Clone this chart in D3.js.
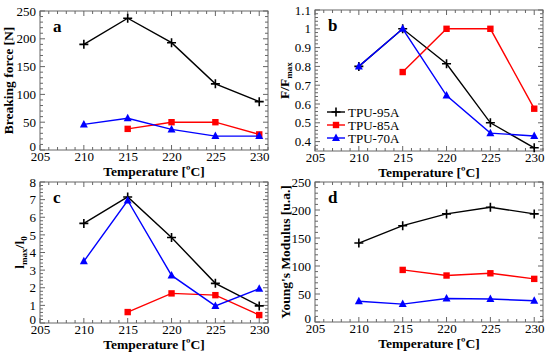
<!DOCTYPE html>
<html><head><meta charset="utf-8">
<script src="https://cdn.jsdelivr.net/npm/d3@7"></script>
<style>body{margin:0;background:#fff}svg{display:block}svg text{font-family:'Liberation Serif','Times New Roman',Times,serif !important}</style>
</head><body>
<script>
const temps = [210, 215, 220, 225, 230];
const seriesNames = ["TPU-95A", "TPU-85A", "TPU-70A"];
const seriesColors = ["#000000", "#ff0000", "#0000ff"];
const seriesMarkers = ["plus", "square", "triangle"];
// values by temperature; null = no measurement
const forceA95 = [190, 237, 193, 119, 87];
const forceA85 = [null, 38, 50, 50, 28];
const forceA70 = [46, 57, 37, 25, 25];
const ratioB95 = [0.80, 1.0, 0.814, 0.50, 0.367];
const ratioB85 = [null, 0.77, 1.0, 1.0, 0.575];
const ratioB70 = [0.80, 1.0, 0.645, 0.445, 0.43];
const elongC95 = [5.65, 7.15, 4.85, 2.25, 0.97];
const elongC85 = [null, 0.62, 1.68, 1.58, 0.45];
const elongC70 = [3.5, 6.95, 2.7, 0.97, 1.95];
const modulusD95 = [141, 172, 193, 205, 193];
const modulusD85 = [null, 93, 83, 87, 77];
const modulusD70 = [37, 32, 42, 41, 38];
const xTicks = [205, 210, 215, 220, 225, 230];
const yTicksA = [0, 50, 100, 150, 200, 250];
const yTicksB = [0.4, 0.5, 0.6, 0.7, 0.8, 0.9, 1, 1.1];
const yTicksC = [0, 1, 2, 3, 4, 5, 6, 7, 8];
const yTicksD = [0, 50, 100, 150, 200, 250];

const W = 550, H = 353;
const FONT = "'Liberation Serif', 'Times New Roman', serif";
const svg = d3.select("body").append("svg").attr("width", W).attr("height", H)
  .attr("font-family", FONT);

const panels = [
  {letter: "a", box: [40, 268, 11, 150], ydom: [0, 250], yt: yTicksA, ym: 10, data: [forceA95, forceA85, forceA70], ylab: [{t: "Breaking force [N]"}], labX: 13, legend: false},
  {letter: "b", box: [315, 543, 10, 151], ydom: [0.35, 1.1], yt: yTicksB, ym: 0.02, data: [ratioB95, ratioB85, ratioB70], ylab: [{t: "F/F"}, {t: "max", sub: true}], labX: 289, legend: true},
  {letter: "c", box: [40, 268, 182, 323], ydom: [0, 8], yt: yTicksC, ym: 0.2, data: [elongC95, elongC85, elongC70], ylab: [{t: "l"}, {t: "max", sub: true}, {t: "/l"}, {t: "0", sub: true}], labX: 24, legend: false},
  {letter: "d", box: [315, 543, 182, 322], ydom: [0, 250], yt: yTicksD, ym: 10, data: [modulusD95, modulusD85, modulusD70], ylab: [{t: "Young's Modulus [u.a.]"}], labX: 290, legend: false}
];

function marker(g, type, x, y, color) {
  if (type === "plus") {
    g.append("path").attr("d", `M${x-4.5},${y}H${x+4.5}M${x},${y-4.5}V${y+4.5}`).attr("stroke", color).attr("stroke-width", 1.6);
  } else if (type === "square") {
    g.append("rect").attr("x", x-3.2).attr("y", y-3.2).attr("width", 6.4).attr("height", 6.4).attr("fill", color);
  } else {
    g.append("path").attr("d", `M${x},${y-4.5}L${x+4},${y+3}L${x-4},${y+3}Z`).attr("fill", color);
  }
}

panels.forEach(p => {
  const [l, r, t, b] = p.box;
  const x = d3.scaleLinear().domain([205, 231]).range([l, r]);
  const y = d3.scaleLinear().domain(p.ydom).range([b, t]);
  const g = svg.append("g");
  const frameCol = "#666";
  g.append("rect").attr("x", l).attr("y", t).attr("width", r - l).attr("height", b - t)
    .attr("fill", "none").attr("stroke", frameCol).attr("stroke-width", 1);
  const xMinor = d3.range(205, 231.01, 1);
  xMinor.forEach(v => {
    const major = v % 5 === 0;
    const len = major ? 5 : 3;
    g.append("line").attr("x1", x(v)).attr("x2", x(v)).attr("y1", b).attr("y2", b - len).attr("stroke", frameCol);
    g.append("line").attr("x1", x(v)).attr("x2", x(v)).attr("y1", t).attr("y2", t + len).attr("stroke", frameCol);
  });
  const xa = d3.axisBottom(x).tickValues(xTicks).tickSize(0).tickPadding(2).tickFormat(d3.format("d"));
  const xg = g.append("g").attr("transform", `translate(0,${b})`).call(xa).attr("font-family", FONT);
  xg.select(".domain").remove();
  xg.selectAll("text").attr("font-size", 13).attr("fill", "#000");
  const yMinorAll = d3.range(Math.ceil(p.ydom[0] / p.ym - 1e-6), Math.floor(p.ydom[1] / p.ym + 1e-6) + 1).map(i => i * p.ym);
  yMinorAll.forEach(v => {
    const isMajor = p.yt.some(m => Math.abs(m - v) < 1e-6);
    const len = isMajor ? 5 : 3;
    g.append("line").attr("y1", y(v)).attr("y2", y(v)).attr("x1", l).attr("x2", l + len).attr("stroke", frameCol);
    g.append("line").attr("y1", y(v)).attr("y2", y(v)).attr("x1", r).attr("x2", r - len).attr("stroke", frameCol);
  });
  const ya = d3.axisLeft(y).tickValues(p.yt).tickSize(0).tickPadding(4).tickFormat(d => String(+d.toFixed(2)));
  const yg = g.append("g").attr("transform", `translate(${l},0)`).call(ya).attr("font-family", FONT);
  yg.select(".domain").remove();
  yg.selectAll("text").attr("font-size", 13).attr("fill", "#000")
    .attr("dy", d => Math.abs(d - p.ydom[0]) < 1e-9 ? "0.05em" : "0.32em");
  g.append("text").attr("x", (l + r) / 2).attr("y", b + 26).attr("text-anchor", "middle")
    .attr("font-size", 13.5).attr("font-weight", "bold").text("Temperature [ºC]");
  const yt = g.append("text").attr("transform", `translate(${p.labX},${(t + b) / 2}) rotate(-90)`)
    .attr("text-anchor", "middle").attr("font-size", 13.5).attr("font-weight", "bold");
  p.ylab.forEach((s, k) => {
    const ts = yt.append("tspan").text(s.t);
    if (s.sub) ts.attr("font-size", 9).attr("dy", 2.5);
    else if (k > 0) ts.attr("dy", -2.5);
  });
  g.append("text").attr("x", l + 13).attr("y", t + 21).attr("font-size", 17).attr("font-weight", "bold").text(p.letter);
  const line = d3.line().defined(d => d.v !== null).x(d => x(d.t)).y(d => y(d.v));
  p.data.forEach((vals, i) => {
    const pts = temps.map((tt, k) => ({t: tt, v: vals[k]}));
    g.append("path").datum(pts).attr("d", line).attr("fill", "none").attr("stroke", seriesColors[i]).attr("stroke-width", 1.4);
    pts.filter(d => d.v !== null).forEach(d => marker(g, seriesMarkers[i], x(d.t), y(d.v), seriesColors[i]));
  });
  if (p.legend) {
    seriesNames.forEach((n, i) => {
      const ly = 112 + i * 13;
      g.append("line").attr("x1", l + 12).attr("x2", l + 30).attr("y1", ly).attr("y2", ly).attr("stroke", seriesColors[i]).attr("stroke-width", 1.4);
      marker(g, seriesMarkers[i], l + 21, ly, seriesColors[i]);
      g.append("text").attr("x", l + 33).attr("y", ly + 4.5).attr("font-size", 13).text(n);
    });
  }
});
</script>
</body></html>
